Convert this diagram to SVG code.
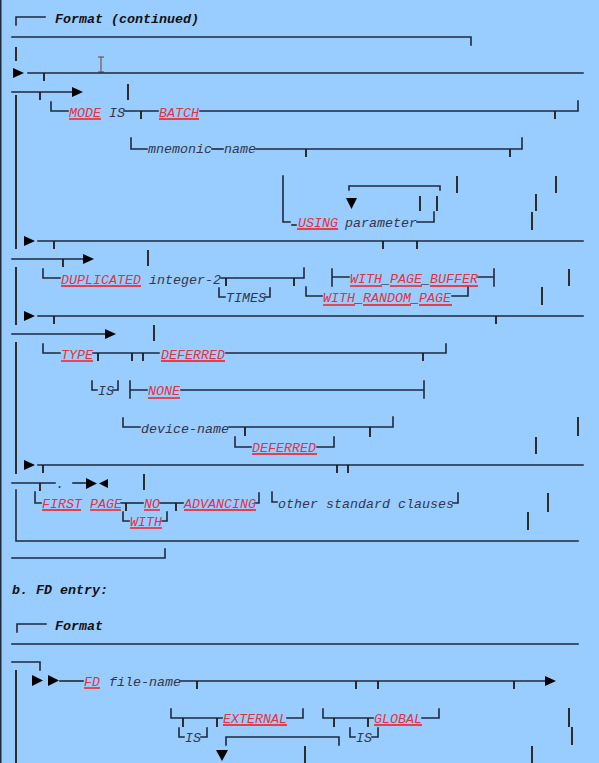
<svg xmlns="http://www.w3.org/2000/svg" width="599" height="763" viewBox="0 0 599 763">
<style>
.ln{stroke:#1f2a38;stroke-width:1.6;fill:none;stroke-linecap:square}
.vb{stroke:#231c10;stroke-width:1.8;fill:none}
.ar{fill:#000}
.kw{font-family:"Liberation Mono",monospace;font-style:italic;font-size:13.33px;fill:#e2333f}
.tx{font-family:"Liberation Mono",monospace;font-style:italic;font-size:13.33px;fill:#34384a}
.hd{font-family:"Liberation Mono",monospace;font-style:italic;font-weight:bold;font-size:13.33px;fill:#111}
.ul{stroke:#ff1010;stroke-width:1.4}
.us{fill:#111}
</style>
<rect width="599" height="763" fill="#99ccff"/>
<rect x="0" y="0" width="1.5" height="763" fill="#1f2a38"/>

<g id="connectors">
  <!-- header 1 -->
  <path class="ln" d="M16,25 V17 H45"/>
  <path class="ln" d="M12,37 H471 V45"/>
  <path class="vb" d="M16,47 V61"/>
  <path d="M98,57 H104 M101,57 V72 M98,72 H104" stroke="#6a4420" stroke-width="1" fill="none"/>
  <!-- row A -->
  <polygon class="ar" points="13,68 24,73 13,78"/>
  <path class="ln" d="M28,73 H583"/>
  <path class="vb" d="M44,73 V81"/>
  <!-- row B -->
  <path class="ln" d="M12,92 H72"/>
  <path class="vb" d="M40,92 V100"/>
  <polygon class="ar" points="72,87 83,92 72,97"/>
  <path class="vb" d="M128,84 V100"/>
  <!-- left rails -->
  <path class="vb" d="M16,95 V249"/>
  <path class="vb" d="M16,267 V325"/>
  <path class="vb" d="M16,342 V474"/>
  <path class="ln" d="M16,490 V541 H578"/>
  <path class="vb" d="M16,670 V763"/>
  <!-- MODE -->
  <path class="ln" d="M51,102 V111 H68"/>
  <path class="ln" d="M124,111 H158"/>
  <path class="vb" d="M141,111 V119"/>
  <path class="ln" d="M200,111 H578 V101"/>
  <path class="vb" d="M555,111 V119"/>
  <!-- mnemonic -->
  <path class="ln" d="M131,138 V149 H147"/>
  <path class="ln" d="M212,149 H223"/>
  <path class="ln" d="M256,149 H522 V138"/>
  <path class="vb" d="M306,149 V157 M510,149 V157"/>
  <!-- USING -->
  <path class="ln" d="M283,176 V222 H290"/>
  <path class="ln" d="M292,225 H296"/>
  <path class="ln" d="M417,222 H434 V212"/>
  <path class="ln" d="M349,190 V186 H440 V190"/>
  <polygon class="ar" points="346,198 357,198 351.5,209"/>
  <path class="vb" d="M420,196 V211 M437,196 V211 M457,176 V193 M556,176 V193 M536,194 V211 M532,212 V230"/>
  <!-- row y=241 -->
  <polygon class="ar" points="24,236 35,241 24,246"/>
  <path class="ln" d="M38,241 H583"/>
  <path class="vb" d="M54,241 V249 M383,241 V249 M417,241 V249"/>
  <!-- row y=259 -->
  <path class="ln" d="M12,259 H83"/>
  <path class="vb" d="M63,259 V267"/>
  <polygon class="ar" points="83,254 94,259 83,264"/>
  <path class="vb" d="M148,250 V266"/>
  <!-- DUPLICATED -->
  <path class="ln" d="M43,269 V278 H60"/>
  <path class="ln" d="M221,278 H304 V268"/>
  <path class="vb" d="M226,278 V286 M294,278 V286"/>
  <path class="ln" d="M219,288 V297 H225"/>
  <path class="ln" d="M265,297 H270 V288"/>
  <path class="ln" d="M332,269 V286 M332,277 H349"/>
  <path class="ln" d="M478,277 H494 M494,269 V286"/>
  <path class="vb" d="M569,269 V286"/>
  <path class="ln" d="M306,287 V296 H322"/>
  <path class="ln" d="M452,296 H468 V287"/>
  <path class="vb" d="M542,287 V305"/>
  <!-- row y=316 -->
  <polygon class="ar" points="24,311 35,316 24,321"/>
  <path class="ln" d="M38,316 H583"/>
  <path class="vb" d="M54,316 V324 M496,316 V324"/>
  <!-- row y=334 -->
  <path class="ln" d="M12,334 H105"/>
  <polygon class="ar" points="105,329 116,334 105,339"/>
  <path class="vb" d="M154,325 V341"/>
  <!-- TYPE -->
  <path class="ln" d="M43,344 V353 H60"/>
  <path class="ln" d="M93,353 H159"/>
  <path class="vb" d="M98,353 V361 M132,353 V361 M143,353 V361"/>
  <path class="ln" d="M226,353 H446 V344"/>
  <path class="vb" d="M423,353 V361"/>
  <!-- IS / NONE -->
  <path class="ln" d="M92,381 V390 H97"/>
  <path class="ln" d="M113,390 H118 V381"/>
  <path class="ln" d="M130,381 V398 M130,390 H147"/>
  <path class="ln" d="M181,390 H424 M424,381 V398"/>
  <!-- device-name -->
  <path class="ln" d="M123,418 V427 H140"/>
  <path class="ln" d="M229,427 H393 V417"/>
  <path class="vb" d="M245,427 V436 M370,427 V437"/>
  <path class="ln" d="M235,437 V447 H251"/>
  <path class="ln" d="M317,447 H334 V437"/>
  <path class="vb" d="M536,437 V454 M578,417 V436"/>
  <!-- row y=465 -->
  <polygon class="ar" points="24,460 35,465 24,470"/>
  <path class="ln" d="M38,465 H583"/>
  <path class="vb" d="M43,465 V473 M337,465 V473 M348,465 V473"/>
  <!-- row y=483 -->
  <path class="ln" d="M12,483 H55"/>
  <path class="vb" d="M40,483 V491"/>
  <path class="ln" d="M73,483 H85"/>
  <polygon class="ar" points="86,478 97,483.5 86,489"/>
  <polygon class="ar" points="108,479 99,483.5 108,488"/>
  <path class="vb" d="M144,474 V490"/>
  <!-- FIRST PAGE -->
  <path class="ln" d="M35,492 V503 H41"/>
  <path class="ln" d="M121,503 H143"/>
  <path class="vb" d="M126,503 V511"/>
  <path class="ln" d="M160,503 H183"/>
  <path class="vb" d="M176,503 V511"/>
  <path class="ln" d="M255,503 H259 V493"/>
  <path class="ln" d="M272,492 V502 H277"/>
  <path class="ln" d="M453,503 H458 V493"/>
  <path class="vb" d="M548,493 V512 M528,512 V530"/>
  <path class="ln" d="M123,512 V521 H129"/>
  <path class="ln" d="M162,521 H167 V512"/>
  <path class="ln" d="M12,558 H165 V549"/>
  <!-- header 2 -->
  <path class="ln" d="M17,632 V624 H46"/>
  <path class="ln" d="M12,644 H578"/>
  <path class="ln" d="M12,662 H40 V670"/>
  <!-- FD -->
  <polygon class="ar" points="32,675 43,680.5 32,686"/>
  <polygon class="ar" points="48,675 59,680.5 48,686"/>
  <path class="ln" d="M60,681 H83"/>
  <path class="ln" d="M180,681 H545"/>
  <polygon class="ar" points="545,676 556,681 545,686"/>
  <path class="vb" d="M197,681 V689 M356,681 V689 M378,681 V689 M514,681 V689"/>
  <!-- EXTERNAL / GLOBAL -->
  <path class="ln" d="M171,709 V718 H222"/>
  <path class="vb" d="M183,718 V727 M217,718 V727"/>
  <path class="ln" d="M287,718 H303 V709"/>
  <path class="ln" d="M323,709 V718 H373"/>
  <path class="vb" d="M334,718 V727 M368,718 V727"/>
  <path class="ln" d="M422,718 H439 V709"/>
  <path class="vb" d="M569,708 V727 M572,727 V745"/>
  <path class="ln" d="M179,728 V737 H184"/>
  <path class="ln" d="M201,737 H207 V728"/>
  <path class="ln" d="M350,728 V737 H355"/>
  <path class="ln" d="M372,737 H378 V728"/>
  <path class="ln" d="M226,745 V737 H339 V745"/>
  <polygon class="ar" points="216,750 228,750 222,761"/>
  <path class="vb" d="M305,746 V763 M532,746 V763"/>
</g>

<g id="header-continued"><text class="hd" x="55" y="23">Format (continued)</text></g>
<g id="n-mode"><text class="kw" x="69" y="117">MODE</text><line class="ul" x1="69" y1="119" x2="101" y2="119"/></g>
<g id="n-is1"><text class="tx" x="109" y="117">IS</text></g>
<g id="n-batch"><text class="kw" x="159" y="117">BATCH</text><line class="ul" x1="159" y1="119" x2="199" y2="119"/></g>
<g id="n-mnemonic"><text class="tx" x="148" y="153">mnemonic</text><text class="tx" x="224" y="153">name</text></g>
<g id="n-using"><text class="kw" x="298" y="227">USING</text><line class="ul" x1="297" y1="229" x2="338" y2="229"/></g>
<g id="n-parameter"><text class="tx" x="345" y="227">parameter</text></g>
<g id="n-duplicated"><text class="kw" x="61" y="284">DUPLICATED</text><line class="ul" x1="61" y1="286" x2="141" y2="286"/></g>
<g id="n-integer2"><text class="tx" x="149" y="284">integer-2</text></g>
<g id="n-times"><text class="tx" x="226" y="302">TIMES</text></g>
<g id="n-page-buffer"><text class="kw" x="350" y="283">WITH<tspan class="us">_</tspan>PAGE<tspan class="us">_</tspan>BUFFER</text><line class="ul" x1="350" y1="286" x2="382" y2="286"/><line class="ul" x1="390" y1="286" x2="422" y2="286"/><line class="ul" x1="430" y1="286" x2="478" y2="286"/></g>
<g id="n-random-page"><text class="kw" x="323" y="302">WITH<tspan class="us">_</tspan>RANDOM<tspan class="us">_</tspan>PAGE</text><line class="ul" x1="323" y1="305" x2="355" y2="305"/><line class="ul" x1="363" y1="305" x2="411" y2="305"/><line class="ul" x1="419" y1="305" x2="452" y2="305"/></g>
<g id="n-type"><text class="kw" x="61" y="359">TYPE</text><line class="ul" x1="61" y1="361" x2="93" y2="361"/></g>
<g id="n-deferred1"><text class="kw" x="161" y="359">DEFERRED</text><line class="ul" x1="161" y1="361" x2="225" y2="361"/></g>
<g id="n-is2"><text class="tx" x="98" y="395">IS</text></g>
<g id="n-none"><text class="kw" x="148" y="395">NONE</text><line class="ul" x1="148" y1="398" x2="180" y2="398"/></g>
<g id="n-device"><text class="tx" x="141" y="433">device-name</text></g>
<g id="n-deferred2"><text class="kw" x="252" y="452">DEFERRED</text><line class="ul" x1="252" y1="454" x2="317" y2="454"/></g>
<g id="n-period"><text class="tx" x="56" y="488">.</text></g>
<g id="n-firstpage"><text class="kw" x="42" y="508">FIRST PAGE</text><line class="ul" x1="42" y1="510" x2="81" y2="510"/><line class="ul" x1="90" y1="510" x2="121" y2="510"/></g>
<g id="n-no"><text class="kw" x="144" y="508">NO</text><line class="ul" x1="144" y1="510" x2="160" y2="510"/></g>
<g id="n-advancing"><text class="kw" x="184" y="508">ADVANCING</text><line class="ul" x1="184" y1="510" x2="256" y2="510"/></g>
<g id="n-with"><text class="kw" x="130" y="526">WITH</text><line class="ul" x1="130" y1="528" x2="162" y2="528"/></g>
<g id="n-other"><text class="tx" x="278" y="508">other standard clauses</text></g>
<g id="title-fd"><text class="hd" x="12" y="594">b. FD entry:</text></g>
<g id="header-format"><text class="hd" x="55" y="630">Format</text></g>
<g id="n-fd"><text class="kw" x="84" y="686">FD</text><line class="ul" x1="84" y1="688" x2="100" y2="688"/></g>
<g id="n-filename"><text class="tx" x="109" y="686">file-name</text></g>
<g id="n-external"><text class="kw" x="223" y="723">EXTERNAL</text><line class="ul" x1="223" y1="725" x2="287" y2="725"/></g>
<g id="n-global"><text class="kw" x="374" y="723">GLOBAL</text><line class="ul" x1="374" y1="725" x2="422" y2="725"/></g>
<g id="n-is3"><text class="tx" x="185" y="742">IS</text></g>
<g id="n-is4"><text class="tx" x="356" y="742">IS</text></g>
</svg>
